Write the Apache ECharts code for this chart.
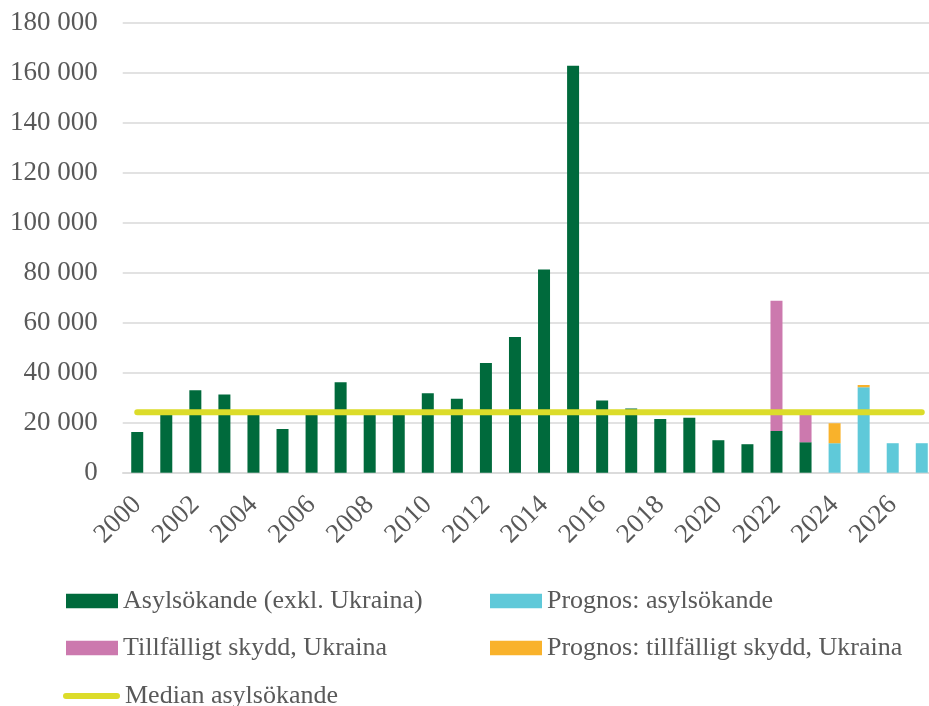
<!DOCTYPE html>
<html>
<head>
<meta charset="utf-8">
<script src="https://cdn.jsdelivr.net/npm/echarts@6/dist/echarts.min.js"></script>
<style>
html,body{margin:0;padding:0;background:#fff;}
#chart{width:929px;height:706px;}
</style>
</head>
<body>
<div id="chart"></div>
<script>
const years = ['2000','2001','2002','2003','2004','2005','2006','2007','2008','2009','2010','2011','2012','2013','2014','2015','2016','2017','2018','2019','2020','2021','2022','2023','2024','2025','2026','2027'];
const asylsokande = [16300,23500,33000,31300,23200,17500,24300,36200,24400,24200,31800,29600,43900,54300,81300,162900,28900,25700,21500,22000,13000,11400,16700,12200,null,null,null,null];
const ukraina = [null,null,null,null,null,null,null,null,null,null,null,null,null,null,null,null,null,null,null,null,null,null,52100,11500,null,null,null,null];
const prognosAsyl = [null,null,null,null,null,null,null,null,null,null,null,null,null,null,null,null,null,null,null,null,null,null,null,null,11800,34200,11800,11800];
const prognosUkraina = [null,null,null,null,null,null,null,null,null,null,null,null,null,null,null,null,null,null,null,null,null,null,null,null,8000,900,null,null];
const median = [24200,24200,24200,24200,24200,24200,24200,24200,24200,24200,24200,24200,24200,24200,24200,24200,24200,24200,24200,24200,24200,24200,24200,24200,24200,24200,24200,24200];

const names = ['Asylsökande (exkl. Ukraina)','Tillfälligt skydd, Ukraina','Prognos: asylsökande','Prognos: tillfälligt skydd, Ukraina','Median asylsökande'];
const colors = ['#006A3C','#CC79AE','#5FC9D9','#F9B22B','#DCDC2A'];

const FONT = 'Liberation Serif';
const TXT = '#595959';

function fmt(v){ return String(v).replace(/\B(?=(\d{3})+(?!\d))/g,' '); }

function legendAt(name, left, top, w, h, icon){
  return {
    data:[{name:name, icon:icon||'rect'}],
    left:left, top:top, padding:0, itemWidth:w, itemHeight:h, selectedMode:false,
    textStyle:{fontFamily:FONT, fontSize:26, color:TXT}
  };
}

const chart = echarts.init(document.getElementById('chart'), null, {renderer:'canvas'});
chart.setOption({
  backgroundColor:'#fff',
  animation:false,
  color: colors,
  grid:{left:122.7, width:813.6, top:23, height:449.7, containLabel:false, outerBoundsMode:'none'},
  legend:[
    legendAt(names[0], 66, 588, 52, 14.5),
    legendAt(names[2], 490, 588, 52, 14.5),
    legendAt(names[1], 66, 635, 52, 14.5),
    legendAt(names[3], 490, 635, 52, 14.5),
    legendAt(names[4], 63, 683, 57, 6, 'path://M3,0 L54,0 A3,3 0 0 1 54,6 L3,6 A3,3 0 0 1 3,0 Z')
  ],
  xAxis:{
    type:'category', data:years,
    axisLine:{lineStyle:{color:'#d9d9d9', width:1.5}},
    axisTick:{show:false},
    axisLabel:{interval:1, rotate:45, margin:28, fontFamily:FONT, fontSize:27, color:TXT}
  },
  yAxis:{
    type:'value', min:0, max:180000, interval:20000,
    axisLine:{show:false}, axisTick:{show:false},
    splitLine:{lineStyle:{color:'#d9d9d9', width:1.5}},
    axisLabel:{margin:25, fontFamily:FONT, fontSize:27, color:TXT, formatter:fmt}
  },
  series:[
    {name:names[0], type:'bar', stack:'s', data:asylsokande, barWidth:12, itemStyle:{color:colors[0]}},
    {name:names[1], type:'bar', stack:'s', data:ukraina, barWidth:12, itemStyle:{color:colors[1]}},
    {name:names[2], type:'bar', stack:'s', data:prognosAsyl, barWidth:12, itemStyle:{color:colors[2]}},
    {name:names[3], type:'bar', stack:'s', data:prognosUkraina, barWidth:12, itemStyle:{color:colors[3]}},
    {name:names[4], type:'line', data:median, symbol:'none', z:5,
      lineStyle:{color:colors[4], width:6, cap:'round'}, itemStyle:{color:colors[4]}}
  ]
});
</script>
</body>
</html>
